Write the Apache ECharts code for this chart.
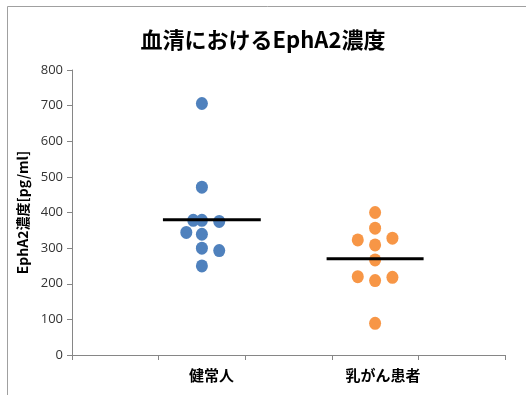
<!DOCTYPE html>
<html>
<head>
<meta charset="utf-8">
<script src="https://cdn.jsdelivr.net/npm/echarts@6/dist/echarts.min.js"></script>
<style>
  html, body { margin: 0; padding: 0; background: #fff; }
  #chart { width: 526px; height: 395px; }
</style>
</head>
<body>
<div id="chart"></div>
<script>
// Group names and where their labels sit along the x scale
const categories = ['健常人', '乳がん患者'];
const categoryPos = [1.61, 3.59];

// Healthy group: [x offset within the dot column, EphA2 pg/ml]
const healthyX = [1.5, 1.5, 1.4, 1.5, 1.7, 1.32, 1.5, 1.5, 1.7, 1.5];
const healthyY = [706, 471, 378, 378, 375, 344, 339, 300, 293, 250];

// Breast cancer group
const cancerX = [3.5, 3.5, 3.3, 3.7, 3.5, 3.5, 3.3, 3.5, 3.7, 3.5];
const cancerY = [400, 356, 323, 328, 309, 267, 220, 209, 218, 89];

// Group average bars: x extent and level
const healthyMeanX = [1.05, 2.18];
const healthyMean = 380;
const cancerMeanX = [2.94, 4.06];
const cancerMean = 270;

const yTicks = [0, 100, 200, 300, 400, 500, 600, 700, 800];

const zip = (xs, ys) => xs.map((x, i) => [x, ys[i]]);

const chart = echarts.init(document.getElementById('chart'), null, { renderer: 'canvas' });

chart.setOption({
  animation: false,
  backgroundColor: '#fff',
  title: {
    text: '血清におけるEphA2濃度',
    left: 'center',
    top: 24,
    textStyle: {
      fontFamily: 'Noto Sans CJK JP',
      fontWeight: 'bold',
      fontSize: 22,
      color: '#000'
    }
  },
  graphic: [{
    type: 'rect',
    shape: { x: 7.5, y: 6.5, width: 540, height: 420 },
    style: { fill: 'none', stroke: '#a0a0a0', lineWidth: 1 },
    silent: true
  }],
  grid: { left: 72, right: 21, top: 70, bottom: 40 },
  xAxis: {
    type: 'value',
    min: 0,
    max: 5,
    interval: 1,
    splitLine: { show: false },
    axisLine: { lineStyle: { color: '#868686', width: 1 } },
    axisTick: { show: true, length: 5, lineStyle: { color: '#868686' } },
    axisLabel: {
      customValues: categoryPos,
      formatter: v => {
        const i = categoryPos.findIndex(p => Math.abs(p - v) < 1e-6);
        return i >= 0 ? categories[i] : '';
      },
      margin: 13,
      fontFamily: 'Noto Sans CJK JP',
      fontWeight: 'bold',
      fontSize: 15,
      color: '#000'
    }
  },
  yAxis: {
    type: 'value',
    min: yTicks[0],
    max: yTicks[yTicks.length - 1],
    interval: 100,
    name: 'EphA2濃度[pg/ml]',
    nameLocation: 'middle',
    nameRotate: 90,
    nameGap: 40,
    nameTextStyle: {
      fontFamily: 'Noto Sans CJK JP',
      fontWeight: 'bold',
      fontSize: 14,
      color: '#000'
    },
    splitLine: { show: false },
    axisLine: { show: true, lineStyle: { color: '#868686', width: 1 } },
    axisTick: { show: true, length: 5, lineStyle: { color: '#868686' } },
    axisLabel: {
      margin: 9,
      fontFamily: 'Open Sans',
      fontSize: 13,
      color: '#333'
    }
  },
  series: [
    {
      type: 'scatter',
      data: zip(healthyX, healthyY),
      symbol: 'circle',
      symbolSize: [12, 13],
      itemStyle: { color: '#4F81BD', opacity: 1 },
      z: 2
    },
    {
      type: 'scatter',
      data: zip(cancerX, cancerY),
      symbol: 'circle',
      symbolSize: [12, 13],
      itemStyle: { color: '#F79646', opacity: 1 },
      z: 2
    },
    {
      type: 'line',
      data: healthyMeanX.map(x => [x, healthyMean]),
      symbol: 'none',
      lineStyle: { color: '#000', width: 3 },
      z: 3
    },
    {
      type: 'line',
      data: cancerMeanX.map(x => [x, cancerMean]),
      symbol: 'none',
      lineStyle: { color: '#000', width: 3 },
      z: 3
    }
  ]
});
</script>
</body>
</html>
